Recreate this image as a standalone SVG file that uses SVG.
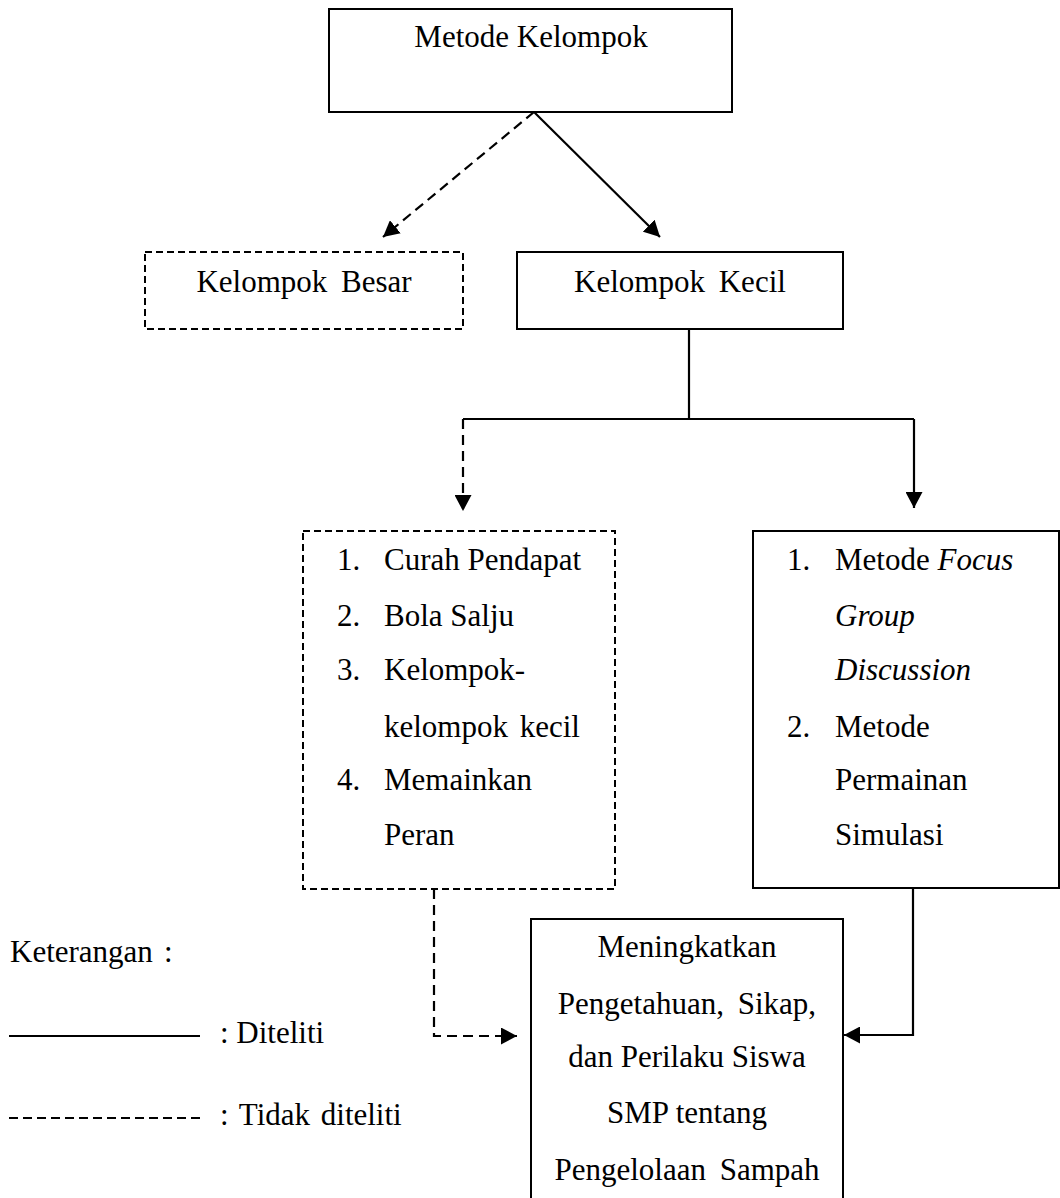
<svg xmlns="http://www.w3.org/2000/svg" width="1060" height="1198" viewBox="0 0 1060 1198">
<style>
text{font-family:"Liberation Serif","Times New Roman",serif;font-size:31px;fill:#000}
.c{text-anchor:middle}
.box{fill:#fff;stroke:#000;stroke-width:2}
.dbox{fill:#fff;stroke:#000;stroke-width:2;stroke-dasharray:7 4}
.ln{fill:none;stroke:#000;stroke-width:2.2}
.dln{fill:none;stroke:#000;stroke-width:2.2;stroke-dasharray:10 6}
.it{font-style:italic}
</style>
<defs>
<marker id="ah" markerUnits="userSpaceOnUse" markerWidth="17" markerHeight="17" refX="16" refY="8.5" orient="auto">
<path d="M0,0 L16,8.5 L0,17 z" fill="#000"/>
</marker>
</defs>
<rect width="1060" height="1198" fill="#fff"/>
<g id="connectors">
<line class="dln" x1="534" y1="112" x2="383" y2="237" marker-end="url(#ah)"/>
<line class="ln" x1="534" y1="112" x2="660" y2="237" marker-end="url(#ah)"/>
<polyline class="ln" points="689,329 689,419"/>
<polyline class="ln" points="463,419 914,419"/>
<polyline class="dln" points="463,419 463,511" marker-end="url(#ah)"/>
<polyline class="ln" points="914,419 914,508" marker-end="url(#ah)"/>
<polyline class="dln" points="434,889 434,1036 517,1036" marker-end="url(#ah)"/>
<polyline class="ln" points="913,888 913,1035 844,1035" marker-end="url(#ah)"/>
</g>
<g id="n-metode-kelompok">
<rect class="box" x="329" y="9" width="403" height="103"/>
<text class="c" x="531" y="47">Metode Kelompok</text>
</g>
<g id="n-kelompok-besar">
<rect class="dbox" x="145" y="252" width="318" height="77"/>
<text class="c" x="304" y="292" word-spacing="6">Kelompok Besar</text>
</g>
<g id="n-kelompok-kecil">
<rect class="box" x="517" y="252" width="326" height="77"/>
<text class="c" x="680" y="292" word-spacing="6">Kelompok Kecil</text>
</g>
<g id="n-list-tidak">
<rect class="dbox" x="303" y="531" width="312" height="358"/>
<text x="337" y="570">1.</text><text x="384" y="570">Curah Pendapat</text>
<text x="337" y="626">2.</text><text x="384" y="626">Bola Salju</text>
<text x="337" y="680">3.</text><text x="384" y="680">Kelompok-</text>
<text x="384" y="737" word-spacing="4">kelompok kecil</text>
<text x="337" y="790">4.</text><text x="384" y="790">Memainkan</text>
<text x="384" y="845">Peran</text>
</g>
<g id="n-list-diteliti">
<rect class="box" x="753" y="531" width="306" height="357"/>
<text x="787" y="570">1.</text><text x="835" y="570">Metode <tspan class="it">Focus</tspan></text>
<text x="835" y="626" class="it">Group</text>
<text x="835" y="680" class="it">Discussion</text>
<text x="787" y="737">2.</text><text x="835" y="737">Metode</text>
<text x="835" y="790">Permainan</text>
<text x="835" y="845">Simulasi</text>
</g>
<g id="n-hasil">
<rect class="box" x="531" y="919" width="312" height="300"/>
<text class="c" x="687" y="957">Meningkatkan</text>
<text class="c" x="687" y="1014" word-spacing="6">Pengetahuan, Sikap,</text>
<text class="c" x="687" y="1067">dan Perilaku Siswa</text>
<text class="c" x="687" y="1123">SMP tentang</text>
<text class="c" x="687" y="1180" word-spacing="6">Pengelolaan Sampah</text>
</g>
<g id="legend">
<text x="10" y="962">Keterangan<tspan x="164">:</tspan></text>
<line class="ln" x1="9" y1="1036" x2="200" y2="1036"/>
<text x="220" y="1043">: Diteliti</text>
<line class="ln" x1="9" y1="1118" x2="200" y2="1118" stroke-dasharray="9 5"/>
<text x="220" y="1125" word-spacing="3">: Tidak diteliti</text>
</g>
</svg>
